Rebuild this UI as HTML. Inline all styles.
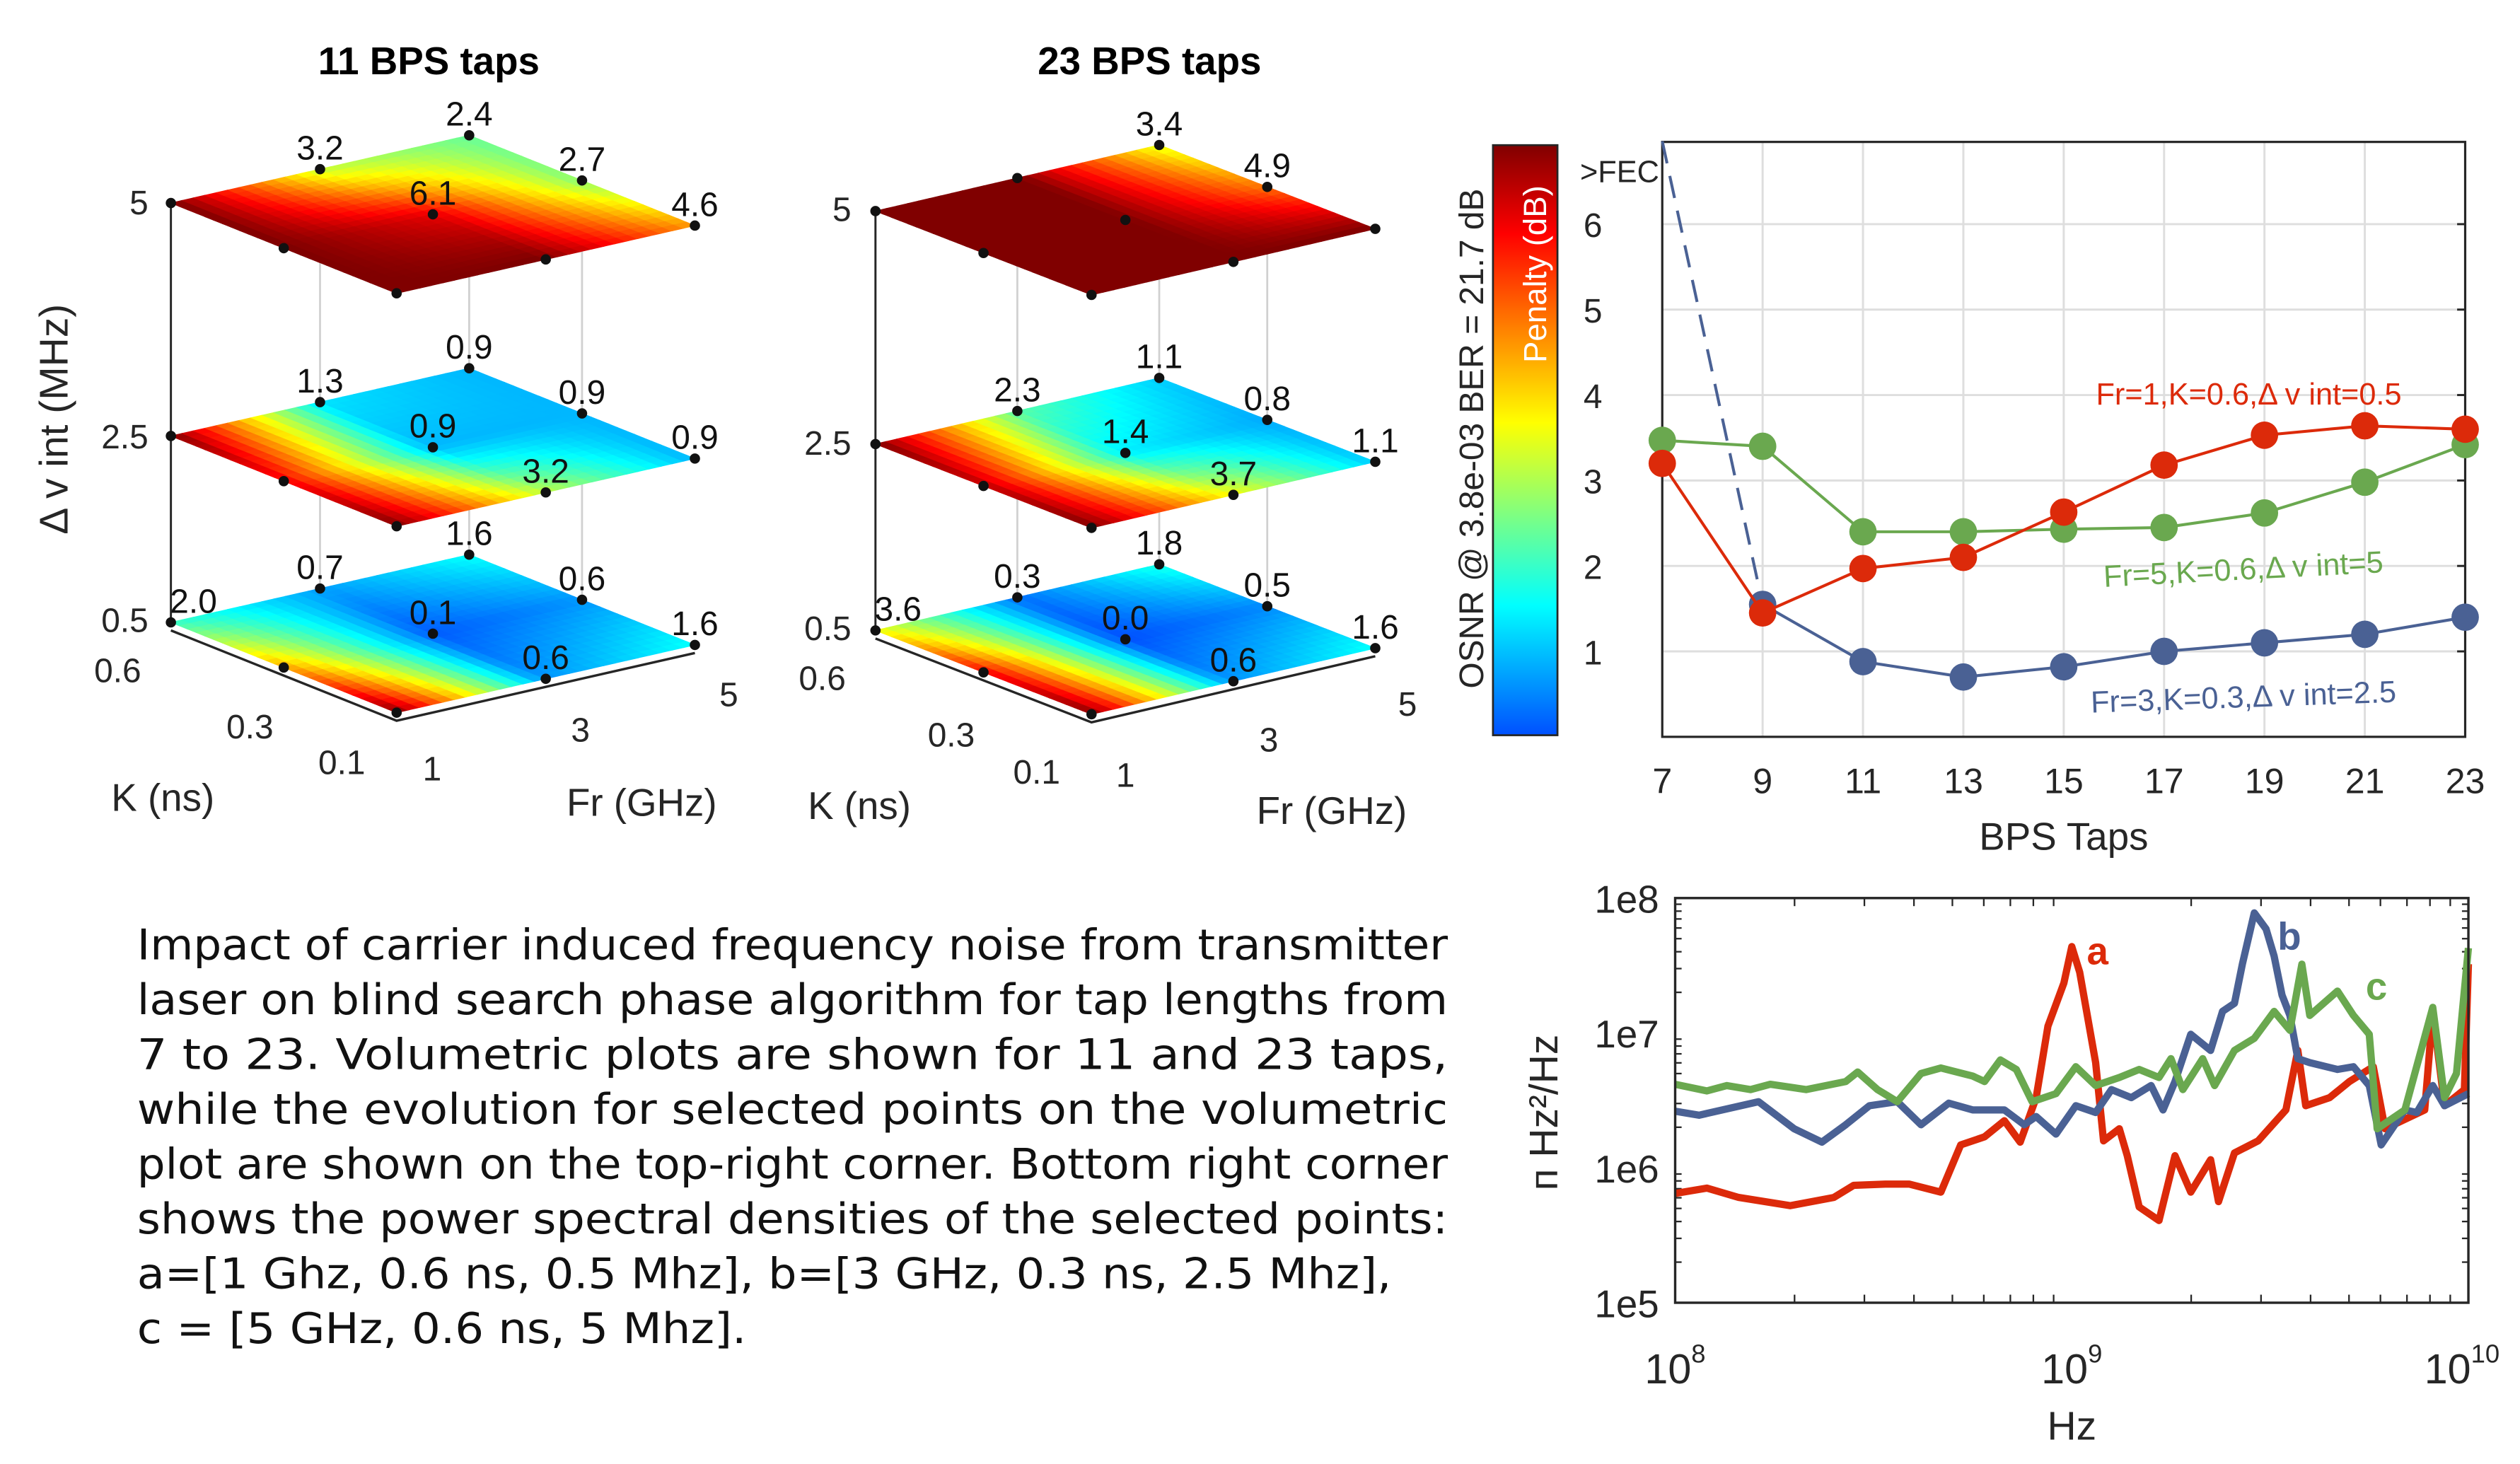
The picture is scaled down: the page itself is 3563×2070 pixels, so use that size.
<!DOCTYPE html>
<html><head><meta charset="utf-8"><style>
html,body{margin:0;padding:0;background:#fff;}
svg{display:block;}
text{font-family:"Liberation Sans",sans-serif;fill:#262626;}
</style></head><body>
<svg id="s" xmlns="http://www.w3.org/2000/svg" width="3563" height="2070" viewBox="0 0 1563 908">
<rect x="0" y="0" width="1563" height="908" fill="#fff"/>
<defs>
<linearGradient id="jetg" x1="0" y1="1" x2="0" y2="0">
<stop offset="0" stop-color="#0050ff"/><stop offset="0.22" stop-color="#00ffff"/><stop offset="0.375" stop-color="#80ff80"/>
<stop offset="0.53" stop-color="#ffff00"/><stop offset="0.69" stop-color="#ff8000"/><stop offset="0.85" stop-color="#ff0000"/><stop offset="1" stop-color="#800000"/>
</linearGradient>
</defs>
<g id="p3d"></g>
<g id="tr"></g>
<g id="br"></g>
<g style="font-family:'DejaVu Sans',sans-serif;font-size:26px">
<text x="85" y="595" textLength="813" lengthAdjust="spacingAndGlyphs" style="font-family:'DejaVu Sans',sans-serif;fill:#111">Impact of carrier induced frequency noise from transmitter</text>
<text x="85" y="629" textLength="813" lengthAdjust="spacingAndGlyphs" style="font-family:'DejaVu Sans',sans-serif;fill:#111">laser on blind search phase algorithm for tap lengths from</text>
<text x="85" y="663" textLength="813" lengthAdjust="spacingAndGlyphs" style="font-family:'DejaVu Sans',sans-serif;fill:#111">7 to 23. Volumetric plots are shown for 11 and 23 taps,</text>
<text x="85" y="697" textLength="813" lengthAdjust="spacingAndGlyphs" style="font-family:'DejaVu Sans',sans-serif;fill:#111">while the evolution for selected points on the volumetric</text>
<text x="85" y="731" textLength="813" lengthAdjust="spacingAndGlyphs" style="font-family:'DejaVu Sans',sans-serif;fill:#111">plot are shown on the top-right corner. Bottom right corner</text>
<text x="85" y="765" textLength="813" lengthAdjust="spacingAndGlyphs" style="font-family:'DejaVu Sans',sans-serif;fill:#111">shows the power spectral densities of the selected points:</text>
<text x="85" y="799" textLength="778" lengthAdjust="spacingAndGlyphs" style="font-family:'DejaVu Sans',sans-serif;fill:#111">a=[1 Ghz, 0.6 ns, 0.5 Mhz], b=[3 GHz, 0.3 ns, 2.5 Mhz],</text>
<text x="85" y="833" textLength="378" lengthAdjust="spacingAndGlyphs" style="font-family:'DejaVu Sans',sans-serif;fill:#111">c = [5 GHz, 0.6 ns, 5 Mhz].</text>
</g>
</svg>
<script>
// ===== Top-right chart data =====
const taps = [7,9,11,13,15,17,19,21,23];
const redVals = [3.2,1.45,1.97,2.1,2.63,3.18,3.53,3.64,3.6];
const greenVals = [3.47,3.4,2.4,2.4,2.43,2.45,2.62,2.98,3.42];
const blueVals = [6.97,1.55,0.88,0.7,0.82,1.0,1.1,1.2,1.4];
const yTicks = [1,2,3,4,5,6];
// ===== PSD data (log10 Hz, log10 Hz^2/Hz) =====
const aFreq = [8.00,8.08,8.16,8.29,8.40,8.45,8.53,8.59,8.67,8.72,8.78,8.83,8.87,8.91,8.94,8.98,9.00,9.02,9.06,9.08,9.12,9.14,9.17,9.22,9.26,9.30,9.35,9.37,9.41,9.47,9.54,9.57,9.59,9.65,9.70,9.76,9.79,9.89,9.91,9.94,9.99,10.0];
const aPsd = [5.81,5.85,5.78,5.72,5.78,5.87,5.88,5.88,5.82,6.17,6.23,6.35,6.19,6.52,7.05,7.37,7.64,7.45,6.78,6.20,6.29,6.09,5.71,5.61,6.09,5.82,6.06,5.75,6.11,6.20,6.43,6.87,6.46,6.52,6.64,6.75,6.29,6.43,7.16,6.46,6.58,7.51];
const bFreq = [8.00,8.06,8.21,8.30,8.37,8.43,8.49,8.56,8.62,8.69,8.75,8.83,8.88,8.91,8.96,9.01,9.06,9.10,9.15,9.20,9.23,9.26,9.30,9.35,9.38,9.41,9.43,9.46,9.49,9.51,9.53,9.55,9.57,9.60,9.67,9.71,9.75,9.78,9.84,9.87,9.91,9.94,10.0];
const bPsd = [6.42,6.39,6.49,6.29,6.19,6.32,6.46,6.49,6.32,6.48,6.43,6.43,6.32,6.38,6.25,6.46,6.41,6.58,6.52,6.61,6.43,6.64,6.99,6.87,7.16,7.22,7.51,7.89,7.77,7.57,7.28,7.13,6.81,6.78,6.73,6.75,6.61,6.17,6.43,6.41,6.61,6.46,6.55];
const cFreq = [8.00,8.08,8.13,8.19,8.24,8.33,8.43,8.46,8.51,8.56,8.62,8.67,8.75,8.78,8.82,8.86,8.90,8.96,9.01,9.06,9.12,9.17,9.22,9.25,9.28,9.33,9.36,9.41,9.46,9.51,9.55,9.58,9.60,9.67,9.71,9.75,9.77,9.84,9.91,9.94,9.97,10.0];
const cPsd = [6.62,6.57,6.61,6.58,6.62,6.58,6.64,6.71,6.58,6.49,6.70,6.74,6.68,6.64,6.80,6.73,6.49,6.55,6.75,6.61,6.67,6.73,6.67,6.81,6.58,6.81,6.61,6.87,6.96,7.16,7.02,7.51,7.13,7.31,7.13,6.99,6.29,6.43,7.19,6.52,6.70,7.63];
const psdTicks = ["1e8","1e7","1e6","1e5"];
// ===== 3D plane values: rows K=0.6,0.3,0.1 ; cols Fr=1,3,5 =====
const p11_dv05 = [[2.0,0.7,1.6],[4.5,0.1,0.6],[7.0,0.6,1.6]];
const p11_dv25 = [[7.0,1.3,0.9],[6.0,0.9,0.9],[7.0,3.2,0.9]];
const p11_dv5  = [[7.0,3.2,2.4],[7.0,6.1,2.7],[7.0,7.0,4.6]];
const p23_dv05 = [[3.6,0.3,1.8],[6.0,0.0,0.5],[7.0,0.6,1.6]];
const p23_dv25 = [[7.0,2.3,1.1],[6.5,1.4,0.8],[7.0,3.7,1.1]];
const p23_dv5  = [[7.0,7.0,3.4],[7.0,7.0,4.9],[7.0,7.0,7.0]];
const dvLevels = [0.5,2.5,5];

const NS='http://www.w3.org/2000/svg';
function mk(tag,attrs,parent,txt){const e=document.createElementNS(NS,tag);for(const k in attrs)e.setAttribute(k,attrs[k]);if(txt!==undefined)e.textContent=txt;parent.appendChild(e);return e;}
const cmStops=[[0,0,80,255],[0.22,0,255,255],[0.375,128,255,128],[0.53,255,255,0],[0.69,255,128,0],[0.85,255,0,0],[1,128,0,0]];
function jet(v){const t=Math.max(0,Math.min(1,v/6.97));
 for(let i=1;i<cmStops.length;i++){if(t<=cmStops[i][0]){const a=cmStops[i-1],b=cmStops[i];const f=(t-a[0])/(b[0]-a[0]);
  return 'rgb('+[1,2,3].map(k=>Math.round(a[k]+(b[k]-a[k])*f)).join(',')+')';}}
 return 'rgb(128,0,0)';}

// ===== 3D panels =====
const g3=document.getElementById('p3d');
function panel(cfg,planes,labelsOn){
 const L=cfg.L,B=cfg.B,R=cfg.R,zs=cfg.zs;
 const pg=mk('g',{},g3);
 
 
 const F=[L[0]+R[0]-B[0],L[1]+R[1]-B[1]];
 function P(u,w,dv){const x=L[0]+(B[0]-L[0])*w+(F[0]-L[0])*u;const y=L[1]+(B[1]-L[1])*w+(F[1]-L[1])*u-(dv-0.5)*zs;return [x,y];}
 [[0,0.5],[0,1],[0.5,1]].forEach(p=>{const a=P(p[0],p[1],0.5),b=P(p[0],p[1],5);const l=mk('line',{x1:a[0],y1:a[1],x2:b[0],y2:b[1],stroke:'#d0d0d0','stroke-width':1.2},pg);});
 const zax=mk('line',{x1:L[0],y1:L[1],x2:L[0],y2:P(0,0,5)[1],stroke:'#262626','stroke-width':1.3},pg);
 
 const N=26;
 planes.forEach((vals,pi)=>{
  const dv=dvLevels[pi];
  const plg=mk('g',{},pg);
  
  
  function val(u,w){const ui=Math.min(1,Math.floor(u*2)),wi=Math.min(1,Math.floor(w*2));const fu=u*2-ui,fw=w*2-wi;
   return vals[ui][wi]*(1-fu)*(1-fw)+vals[ui+1][wi]*fu*(1-fw)+vals[ui][wi+1]*(1-fu)*fw+vals[ui+1][wi+1]*fu*fw;}
  for(let i=0;i<N;i++)for(let j=0;j<N;j++){
   const u0=i/N,u1=(i+1)/N,w0=j/N,w1=(j+1)/N;
   const pts=[P(u0,w0,dv),P(u0,w1,dv),P(u1,w1,dv),P(u1,w0,dv)].map(p=>p[0].toFixed(2)+','+p[1].toFixed(2)).join(' ');
   const col=jet(val((u0+u1)/2,(w0+w1)/2));
   const c=mk('polygon',{points:pts,fill:col,stroke:col,'stroke-width':0.5},plg);
   
   
  }
  for(let a=0;a<3;a++)for(let b=0;b<3;b++){
   const p=P(a/2,b/2,dv);
   const d=mk('circle',{cx:p[0],cy:p[1],r:3.2,fill:'#111'},plg);
   
   
   if(labelsOn[pi][a][b]){const t=mk('text',{x:p[0]+(b===0&&a===0?14:0),y:p[1]-6,'text-anchor':'middle','font-size':21,style:'fill:#111'},plg,vals[a][b].toFixed(1));
    }
  }
 });
 const off=5;
 const l0=P(0,0,0.5),f0=P(1,0,0.5),r0=P(1,1,0.5);
 const ax=mk('polyline',{points:`${l0[0]},${l0[1]+off} ${f0[0]},${f0[1]+off} ${r0[0]},${r0[1]+off}`,fill:'none',stroke:'#262626','stroke-width':1.5},pg);
 
 return pg;
}
const lab11=[[[1,1,1],[0,1,1],[0,1,1]],[[0,1,1],[0,1,1],[0,1,1]],[[0,1,1],[0,1,1],[0,0,1]]];
const lab23=[[[1,1,1],[0,1,1],[0,1,1]],[[0,1,1],[0,1,1],[0,1,1]],[[0,0,1],[0,0,1],[0,0,0]]];
panel({name:'panel-11-taps',L:[106,386],B:[291,344],R:[431,400],zs:57.8},[p11_dv05,p11_dv25,p11_dv5],lab11);
panel({name:'panel-23-taps',L:[543,391],B:[719,350],R:[853,402],zs:57.8},[p23_dv05,p23_dv25,p23_dv5],lab23);
function T(parent,x,y,s,attrs,name){const t=mk('text',Object.assign({x:x,y:y},attrs||{}),parent,s);return t;}
T(g3,266,46,'11 BPS taps',{'text-anchor':'middle','font-size':24,'font-weight':'bold',style:'fill:#000'},'title-11-taps');
T(g3,713,46,'23 BPS taps',{'text-anchor':'middle','font-size':24,'font-weight':'bold',style:'fill:#000'},'title-23-taps');
T(g3,0,0,'Δ v int (MHz)',{'text-anchor':'middle','font-size':25,transform:'translate(42,260) rotate(-90)'},'z-axis-title');
[['5',92,133],['2.5',92,278],['0.5',92,392]].forEach(a=>T(g3,a[1],a[2],a[0],{'text-anchor':'end','font-size':21},'z-tick'));
[['5',528,137],['2.5',528,282],['0.5',528,397]].forEach(a=>T(g3,a[1],a[2],a[0],{'text-anchor':'end','font-size':21},'z-tick'));
[['0.6',73,423],['0.3',155,458],['0.1',212,480],['0.6',510,428],['0.3',590,463],['0.1',643,486]].forEach(a=>T(g3,a[1],a[2],a[0],{'text-anchor':'middle','font-size':21},'k-tick'));
[['1',268,484],['3',360,460],['5',452,438],['1',698,488],['3',787,466],['5',873,444]].forEach(a=>T(g3,a[1],a[2],a[0],{'text-anchor':'middle','font-size':21},'fr-tick'));
T(g3,101,503,'K (ns)',{'text-anchor':'middle','font-size':24},'k-axis-title');
T(g3,398,506,'Fr (GHz)',{'text-anchor':'middle','font-size':24},'fr-axis-title');
T(g3,533,508,'K (ns)',{'text-anchor':'middle','font-size':24},'k-axis-title');
T(g3,826,511,'Fr (GHz)',{'text-anchor':'middle','font-size':24},'fr-axis-title');

// ===== Top-right chart =====
const tr=document.getElementById('tr');
const X0=1031,X1=1529,YB=457,YT=88;
function xT(t){return X0+(t-7)/16*(X1-X0);}
function yT(v){return YB-v*53;}
taps.forEach(t=>{const l=mk('line',{x1:xT(t),y1:YT,x2:xT(t),y2:YB,stroke:'#dedede','stroke-width':1.3},tr);
 T(tr,xT(t),492,String(t),{'text-anchor':'middle','font-size':22},'x-tick-label');});
yTicks.forEach(v=>{const l=mk('line',{x1:X0,y1:yT(v),x2:X1,y2:yT(v),stroke:'#dedede','stroke-width':1.3},tr);
 T(tr,988,yT(v)+8,String(v),{'text-anchor':'middle','font-size':21},'y-tick-label');
 const k=mk('line',{x1:X1-5,y1:yT(v),x2:X1,y2:yT(v),stroke:'#262626','stroke-width':1.3},tr);});
const box=mk('rect',{x:X0,y:YT,width:X1-X0,height:YB-YT,fill:'none',stroke:'#262626','stroke-width':1.4},tr);

T(tr,980,113,'>FEC',{'font-size':19},'fec-label');
T(tr,1280,527,'BPS Taps',{'text-anchor':'middle','font-size':24},'x-axis-title');
const cb=mk('rect',{x:926,y:90,width:40,height:366,fill:'url(#jetg)',stroke:'#262626','stroke-width':1.2},tr);

T(tr,0,0,'Penalty (dB)',{'text-anchor':'middle','font-size':20,transform:'translate(959,170) rotate(-90)',style:'fill:#fff'},'colorbar-title');
T(tr,0,0,'OSNR @ 3.8e-03 BER = 21.7 dB',{'text-anchor':'middle','font-size':21,transform:'translate(920,272) rotate(-90)'},'y-axis-title');
function series(vals,col,name,dashFirst){
 const sg=mk('g',{},tr);
 const pts=taps.map((t,i)=>[xT(t),yT(vals[i])]);
 if(dashFirst){const d=mk('line',{x1:pts[0][0],y1:pts[0][1],x2:pts[1][0],y2:pts[1][1],stroke:col,'stroke-width':1.8,'stroke-dasharray':'14,8'},sg);}
 const lp=(dashFirst?pts.slice(1):pts).map(p=>p.join(',')).join(' ');
 const pl=mk('polyline',{points:lp,fill:'none',stroke:col,'stroke-width':1.8},sg);
 pts.forEach((p,i)=>{if(dashFirst&&i===0)return;const c=mk('circle',{cx:p[0],cy:p[1],r:8.5,fill:col},sg);});
}
series(blueVals,'#4a6194','series-fr3',true);
series(greenVals,'#6aa84f','series-fr5',false);
series(redVals,'#dc2a0a','series-fr1',false);
T(tr,1300,251,'Fr=1,K=0.6,Δ v int=0.5',{'font-size':19,style:'fill:#dc2a0a'},'label-fr1');
T(tr,0,0,'Fr=5,K=0.6,Δ v int=5',{'font-size':19,style:'fill:#6aa84f',transform:'translate(1305,364) rotate(-3)'},'label-fr5');
T(tr,0,0,'Fr=3,K=0.3,Δ v int=2.5',{'font-size':19,style:'fill:#4a6194',transform:'translate(1297,442) rotate(-2)'},'label-fr3');

// ===== PSD chart =====
const br=document.getElementById('br');
const PX0=1039,PX1=1531,PY0=557,PY1=808;
function xL(le){return PX0+(le-8)/2*(PX1-PX0);}
function yL(ly){return PY0+(8-ly)*(PY1-PY0)/3;}
for(let d=8;d<10;d++)for(let m=2;m<=9;m++){const x=xL(d+Math.log10(m));
 [[PY1,PY1-5],[PY0,PY0+5]].forEach(s=>{const l=mk('line',{x1:x,y1:s[0],x2:x,y2:s[1],stroke:'#262626','stroke-width':1},br);});}
for(let d=5;d<8;d++)for(let m=2;m<=9;m++){const y=yL(d+Math.log10(m));
 [[PX0,PX0+4],[PX1,PX1-4]].forEach(s=>{const l=mk('line',{x1:s[0],y1:y,x2:s[1],y2:y,stroke:'#262626','stroke-width':1},br);});}
psdTicks.forEach((s,i)=>T(br,1029,yL(8-i)+9,s,{'text-anchor':'end','font-size':24},'y-tick-label'));
[8,9,10].forEach(e=>{const t=T(br,xL(e)+(e===10?-4:0),858,'10',{'text-anchor':'middle','font-size':26},'x-tick-label');
 mk('tspan',{dy:-13,'font-size':16},t,String(e));});
T(br,1285,893,'Hz',{'text-anchor':'middle','font-size':25},'x-axis-title');
T(br,0,0,'п Hz²/Hz',{'text-anchor':'middle','font-size':25,transform:'translate(966,690) rotate(-90)'},'y-axis-title');
function psd(fx,fy,col,name){const p=mk('polyline',{points:fx.map((f,i)=>xL(f).toFixed(1)+','+yL(fy[i]).toFixed(1)).join(' '),fill:'none',stroke:col,'stroke-width':4.5,'stroke-linejoin':'round'},br);}
psd(aFreq,aPsd,'#dc2a0a','psd-a');
psd(bFreq,bPsd,'#4a6194','psd-b');
psd(cFreq,cPsd,'#6aa84f','psd-c');
const pb=mk('rect',{x:PX0,y:PY0,width:PX1-PX0,height:PY1-PY0,fill:'none',stroke:'#262626','stroke-width':1.5},br);

T(br,1301,598,'a',{'text-anchor':'middle','font-size':24,'font-weight':'bold',style:'fill:#dc2a0a'},'label-a');
T(br,1420,589,'b',{'text-anchor':'middle','font-size':24,'font-weight':'bold',style:'fill:#4a6194'},'label-b');
T(br,1474,620,'c',{'text-anchor':'middle','font-size':24,'font-weight':'bold',style:'fill:#6aa84f'},'label-c');
</script>
</body></html>
